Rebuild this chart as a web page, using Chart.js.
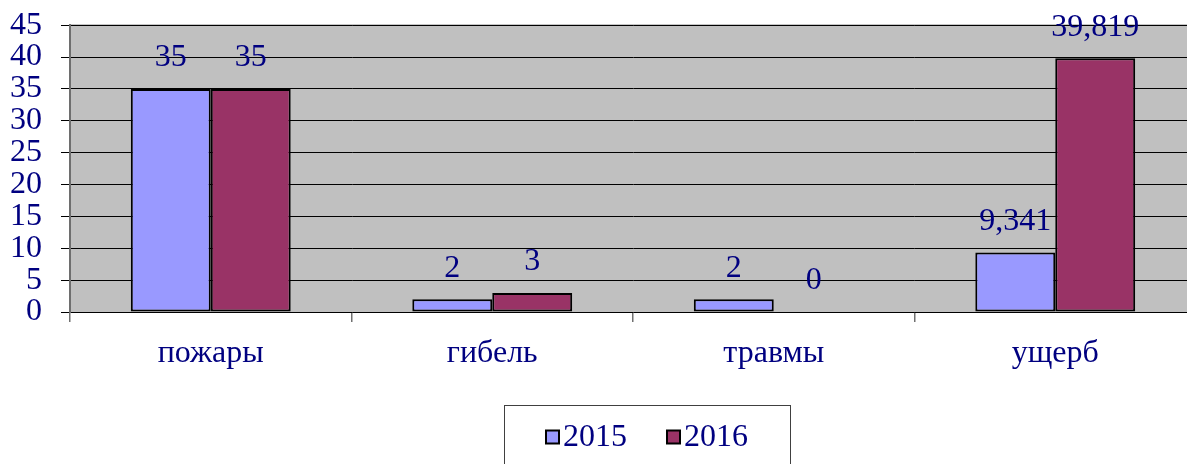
<!DOCTYPE html>
<html>
<head>
<meta charset="utf-8">
<script src="https://cdn.jsdelivr.net/npm/chart.js@4/dist/chart.umd.min.js"></script>
<style>
  html, body { margin: 0; padding: 0; background: #fff; overflow: hidden; }
  #wrap { width: 1200px; height: 477px; margin-top: -13px; }
</style>
</head>
<body>
<div id="wrap"><canvas id="chart"></canvas></div>
<script>
const categories = ['пожары', 'гибель', 'травмы', 'ущерб']
const seriesNames = ['2015', '2016']
const values2015 = [35, 2, 2, 9.341]
const values2016 = [35, 3, 0, 39.819]
const yTicks = [0, 5, 10, 15, 20, 25, 30, 35, 40, 45]

const colors = ['#9999ff', '#993366']
const navy = '#000080'
const serif = "'Liberation Serif', 'Times New Roman', serif"
const shift = 13 // canvas is pulled up by this much

const fmt = (v) => String(v).replace('.', ',')

// grey plot area + top border
const plotBg = {
  id: 'plotBg',
  beforeDraw(chart) {
    const { ctx, chartArea: a } = chart
    ctx.save()
    ctx.fillStyle = '#c0c0c0'
    ctx.fillRect(a.left, a.top, a.right - a.left, a.bottom - a.top)
    ctx.strokeStyle = '#8c8c8c'
    ctx.lineWidth = 1.5
    ctx.beginPath()
    ctx.moveTo(a.left, a.top)
    ctx.lineTo(a.right, a.top)
    ctx.stroke()
    ctx.restore()
  },
}

// value labels above bars
const valueLabels = {
  id: 'valueLabels',
  afterDatasetsDraw(chart) {
    const { ctx } = chart
    ctx.save()
    ctx.font = '32px ' + serif
    ctx.fillStyle = navy
    ctx.textAlign = 'center'
    ctx.textBaseline = 'middle'
    chart.data.datasets.forEach((ds, di) => {
      chart.getDatasetMeta(di).data.forEach((bar, i) => {
        ctx.fillText(fmt(ds.data[i]), bar.x, bar.y - 31)
      })
    })
    ctx.restore()
  },
}

// boxed legend at the bottom
const boxLegend = {
  id: 'boxLegend',
  afterDraw(chart) {
    const { ctx } = chart
    const cx = 647, cy = 437 + shift
    ctx.save()
    ctx.strokeStyle = '#404040'
    ctx.lineWidth = 1
    ctx.strokeRect(504.5, 405.5 + shift, 286, 80)
    ctx.font = '32px ' + serif
    ctx.textBaseline = 'middle'
    const sq = 13, gap = 4, between = 40
    const widths = seriesNames.map((n) => ctx.measureText(n).width)
    const total = widths.reduce((s, w) => s + sq + gap + w, 0) + between
    let x = cx - total / 2
    seriesNames.forEach((name, i) => {
      ctx.fillStyle = colors[i]
      ctx.fillRect(x, cy - sq / 2, sq, sq)
      ctx.strokeStyle = '#000'
      ctx.lineWidth = 2
      ctx.strokeRect(x, cy - sq / 2, sq, sq)
      x += sq + gap
      ctx.fillStyle = navy
      ctx.fillText(name, x, cy + 1)
      x += widths[i] + between
    })
    ctx.restore()
  },
}

new Chart(document.getElementById('chart'), {
  type: 'bar',
  data: {
    labels: categories,
    datasets: [
      { label: seriesNames[0], data: values2015, backgroundColor: colors[0], borderColor: '#000', borderWidth: 2, borderSkipped: false },
      { label: seriesNames[1], data: values2016, backgroundColor: colors[1], borderColor: '#000', borderWidth: 2, borderSkipped: false },
    ],
  },
  options: {
    responsive: true,
    maintainAspectRatio: false,
    animation: false,
    layout: { padding: { top: 0, right: 4, bottom: 72, left: 0 } },
    datasets: { bar: { categoryPercentage: 0.568, barPercentage: 1 } },
    plugins: { legend: { display: false }, tooltip: { enabled: false } },
    scales: {
      x: {
        offset: true,
        grid: { display: true, drawOnChartArea: false, tickLength: 10, color: '#707070', lineWidth: 1.5, offset: true },
        border: { display: false },
        ticks: { color: navy, font: { family: serif, size: 32 }, padding: 12 },
        afterFit: (scale) => { scale.height = 80 },
      },
      y: {
        min: 0,
        max: 45,
        afterBuildTicks: (scale) => { scale.ticks = yTicks.map((v) => ({ value: v })) },
        grid: { color: '#000', lineWidth: 1, tickLength: 9 },
        border: { color: '#6e6e6e', width: 2 },
        ticks: { color: navy, font: { family: serif, size: 32 }, padding: 19, autoSkip: false },
        afterFit: (scale) => { scale.width = 70 },
      },
    },
  },
  plugins: [plotBg, valueLabels, boxLegend],
})
</script>
</body>
</html>
